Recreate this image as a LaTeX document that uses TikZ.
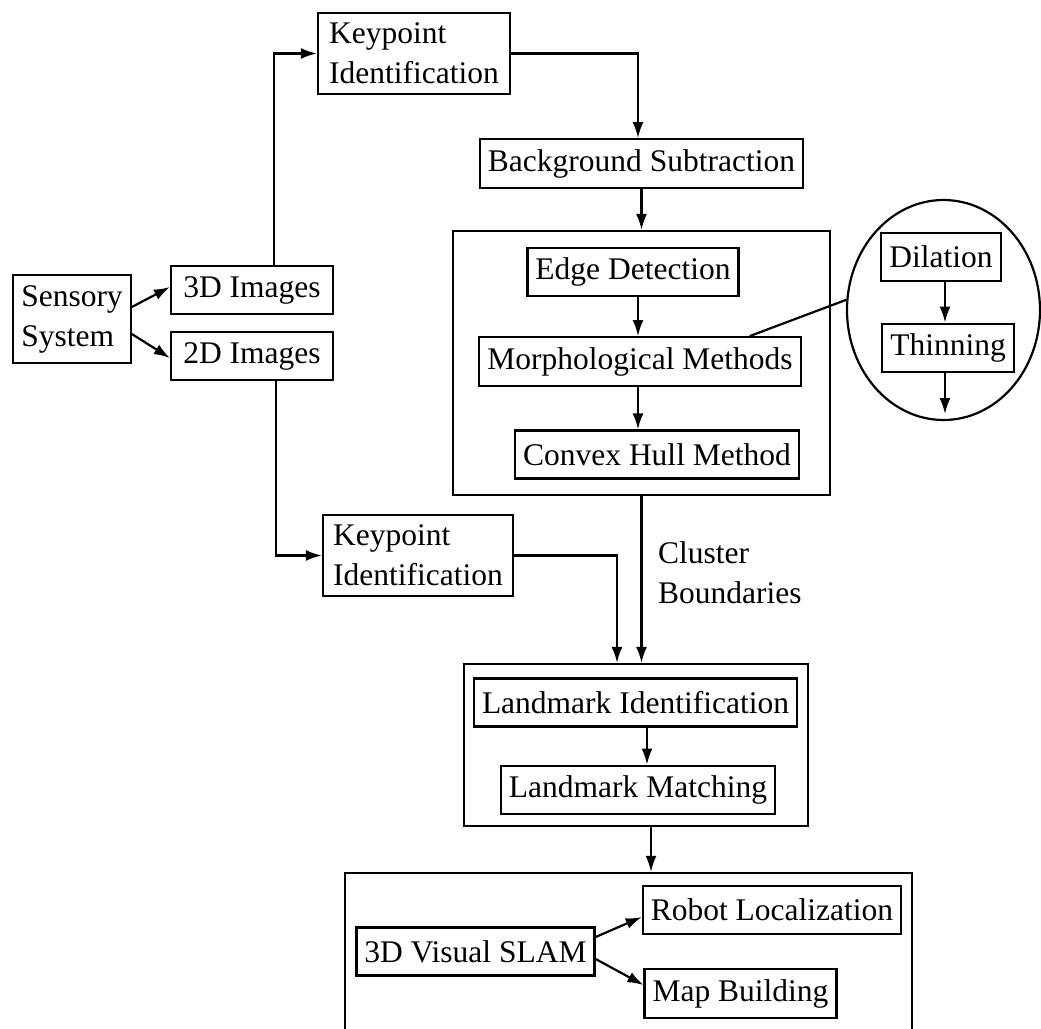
\documentclass[tikz,border=0pt]{standalone}
\usepackage{fontspec}
\setmainfont{Liberation Serif}
\usetikzlibrary{calc}
\usetikzlibrary{positioning}
\usetikzlibrary{arrows.meta}
\usetikzlibrary{shapes.geometric}

\begin{document}
\begin{tikzpicture}[x=0.5pt,y=-0.5pt,line width=1.1pt,>={Latex[length=8pt,width=5.5pt]},
  txt/.style={font=\fontsize{15.75}{20}\selectfont},
  blk/.style={draw,rectangle,txt,inner xsep=4pt,inner ysep=5pt,minimum height=24pt},
  grp/.style={draw,rectangle,inner sep=0pt}]

\useasboundingbox (0,0) rectangle (1041,1029);
\clip (0,0) rectangle (1041,1029);

% input side
\node[blk,align=left] (sensor) at (72,319) {Sensory\\System};
\node[blk,minimum width=81pt] (img3) at (252,290) {3D Images};
\node[blk,minimum width=81pt] (img2) at (252,356) {2D Images};
\node[blk,align=left,minimum width=96pt] (kp1) at (414,53.5) {Keypoint\\Identification};
\node[blk,align=left,minimum width=95pt] (kp2) at (418,555.5) {Keypoint\\Identification};
\node[blk] (bgsub) at (641.5,163.5) {Background Subtraction};

% cluster box
\node[grp,minimum width=188.5pt,minimum height=132pt] (clbox) at (641.5,363) {};
\node[blk] (edge) at (633,272) {Edge Detection};
\node[blk] (morph) at (640,361.5) {Morphological Methods};
\node[blk] (convex) at (657,454.5) {Convex Hull Method};
\coordinate (colx) at (638,0);

% zoom on the morphological step
\node[draw,ellipse,inner sep=0pt,minimum width=96.5pt,minimum height=110pt] (zoomcirc) at (943.5,310) {};
\node[blk] (dil) at (941,257) {Dilation};
\node[blk] (thin) at (948,348) {Thinning};
\coordinate (colz) at (945,0);
\coordinate (thinout) at (945,414);

\node[txt,anchor=north west,inner sep=0pt,align=left] (cluster) at (657,541) {Cluster\\Boundaries};

% landmark box
\node[grp,minimum width=172pt,minimum height=81pt] (lmbox) at (636,745) {};
\node[blk] (lmid) at (635.5,702.5) {Landmark Identification};
\node[blk] (lmm) at (638,790) {Landmark Matching};

% SLAM box
\node[grp,minimum width=283.5pt,minimum height=113.5pt] (slambox) at (628.5,986.5) {};
\node[blk] (slam) at (475.5,951.5) {3D Visual SLAM};
\node[blk] (robot) at (772,910) {Robot Localization};
\node[blk] (mapb) at (740.5,993.5) {Map Building};

% connectors
\draw[->] ([yshift=6pt]sensor.east) -- ([yshift=1.5pt]img3.west);
\draw[->] ([yshift=-7.5pt]sensor.east) -- ([yshift=-1pt]img2.west);
\draw[->] ([xshift=11pt]img3.north) |- (kp1.west);
\draw[->] ([xshift=12pt]img2.south) |- (kp2.west);
\draw[->] (kp1.east) -| ([xshift=-1.75pt]bgsub.north);
\draw[->] (bgsub.south) -- (bgsub.south |- clbox.north);
\draw[->] (edge.south -| colx) -- (morph.north -| colx);
\draw[->] (morph.south -| colx) -- (convex.north -| colx);
\draw ([xshift=-26pt]morph.north east) -- (zoomcirc.174);
\draw[->] (dil.south -| colz) -- (thin.north -| colz);
\draw[->] (thin.south -| colz) -- (thinout);
\draw[->] (kp2.east) -| ([xshift=-9.5pt]lmbox.north);
\draw[->] (clbox.south) -- (clbox.south |- lmbox.north);
\draw[->] ([xshift=5.75pt]lmid.south) -- ([xshift=5.75pt]lmid.south |- lmm.north);
\draw[->] ([xshift=7.5pt]lmbox.south) -- ([xshift=7.5pt]lmbox.south |- slambox.north);
\draw[->] ([yshift=7.25pt]slam.east) -- ([yshift=-3.5pt]robot.west);
\draw[->] ([yshift=-3.75pt]slam.east) -- ([yshift=4.25pt]mapb.west);
\end{tikzpicture}
\end{document}
